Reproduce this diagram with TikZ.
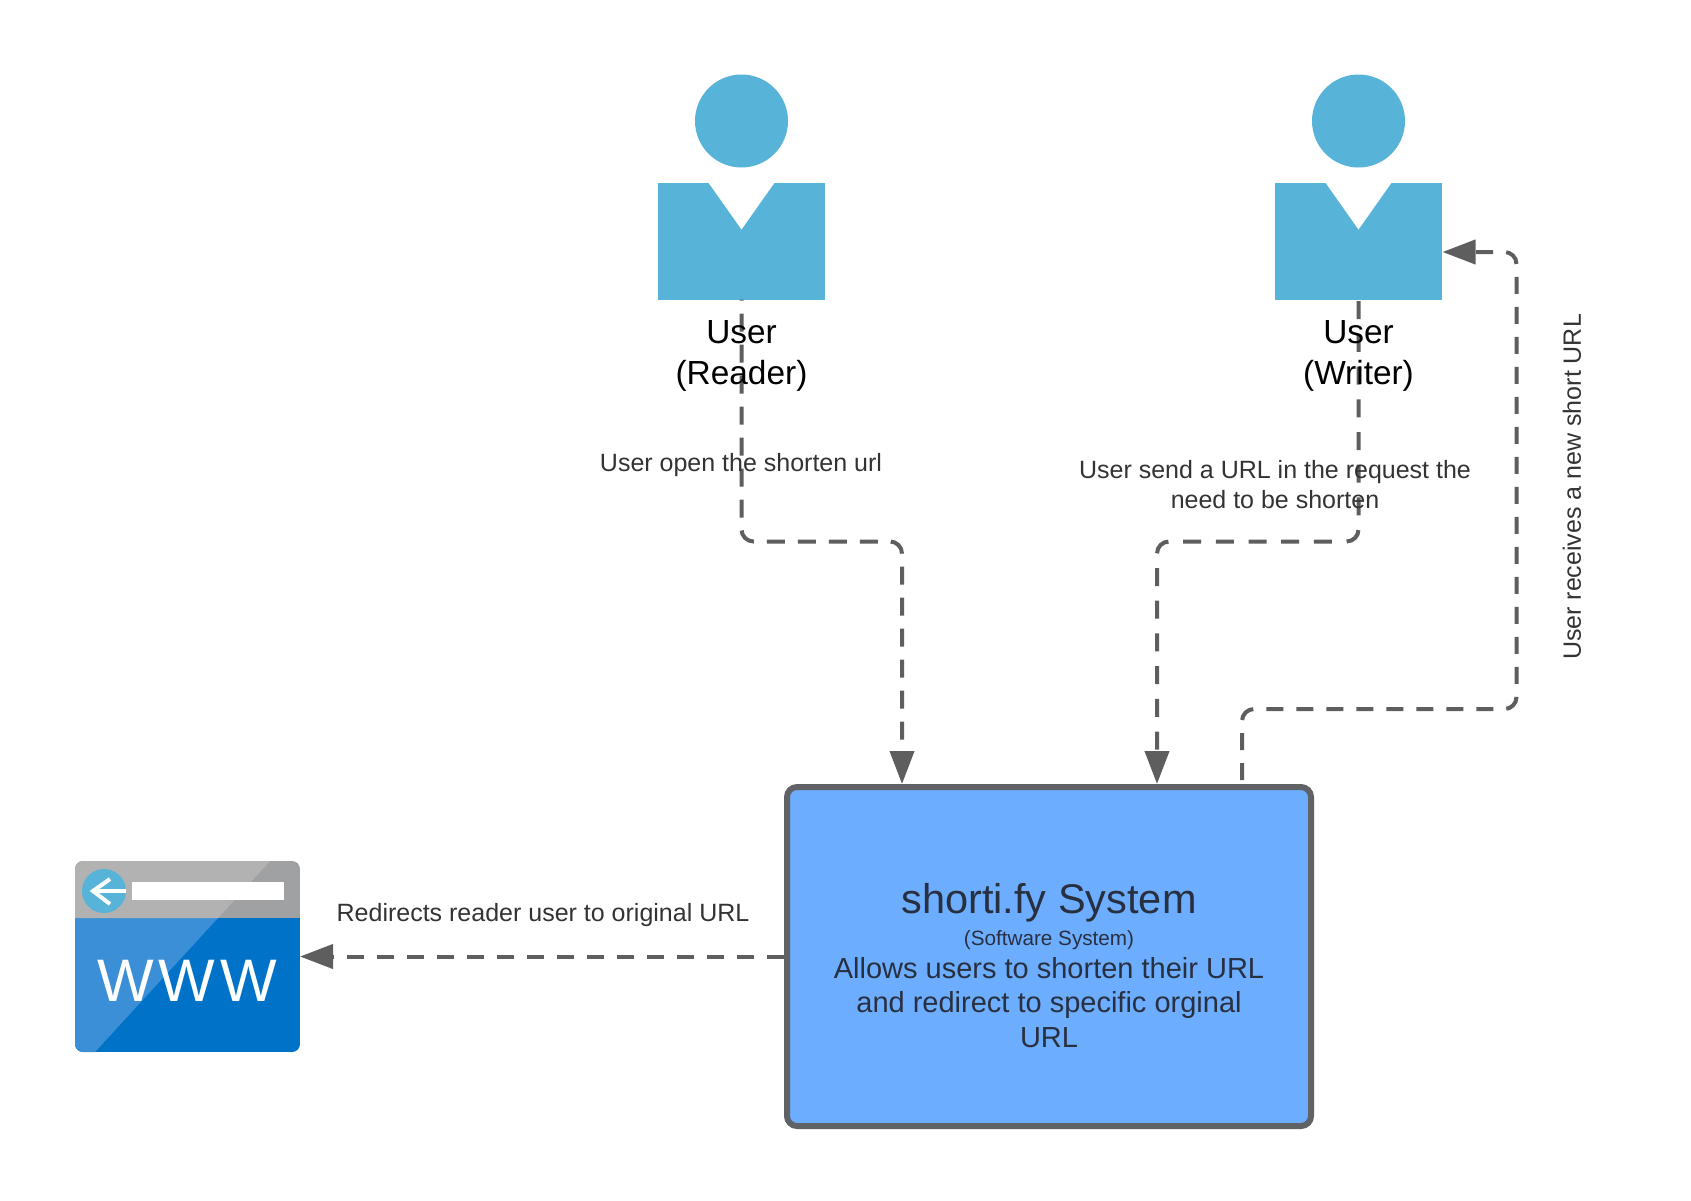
\documentclass[tikz,border=0pt]{standalone}
\usepackage{fontspec}
\setmainfont{Liberation Sans}
\newfontfamily\wwwfont[LetterSpace=8]{Liberation Sans}
\usetikzlibrary{arrows.meta}
\definecolor{personblue}{RGB}{88,179,217}
\definecolor{systemblue}{RGB}{109,173,255}
\definecolor{edgegray}{RGB}{94,94,94}
\definecolor{boxgray}{RGB}{97,98,102}
\definecolor{textdark}{RGB}{40,48,64}
\definecolor{labeldark}{RGB}{51,51,51}
\definecolor{webdark}{RGB}{0,115,200}
\definecolor{weblight}{RGB}{58,143,214}
\definecolor{barlight}{RGB}{178,178,178}
\definecolor{bardark}{RGB}{160,161,163}
\newcommand{\fsize}[2]{\fontsize{#1}{#2}\selectfont}
\tikzset{
    % Person parts
    personhead/.style={circle, fill=personblue, minimum size=93pt, inner sep=0pt, outer sep=0pt},
    personbody/.style={rectangle, fill=personblue, minimum width=167pt, minimum height=117pt, inner sep=0pt, outer sep=0pt},
    personlabel/.style={align=center, text=black, font=\fsize{33.4}{41}},
    % System box
    systembox/.style={
        rectangle, rounded corners=10pt, draw=boxgray, fill=systemblue,
        line width=6pt, minimum width=524pt, minimum height=339pt,
        inner sep=0pt, align=center, text=textdark, font=\fsize{29}{34.7}
    },
    browserbox/.style={rectangle, minimum width=225pt, minimum height=191pt, inner sep=0pt, outer sep=0pt},
    % Connectors
    flowedge/.style={line width=4pt, edgegray, rounded corners=12pt},
    flowtip/.style={-{Triangle[length=33pt,width=24pt]}},
    % Connector labels
    flowlabel/.style={align=center, text=labeldark, font=\fsize{25}{30}}
}
\begin{document}
\begin{tikzpicture}[x=1pt,y=-1pt]
  \useasboundingbox (0,0) rectangle (1691,1200);
  % people
  \node[personhead] (readerhead) at (741.5,121) {};
  \node[personbody] (readerbody) at (741.5,241) {};
  \fill[white] (708,182) -- (775,182) -- (741.5,229.5) -- cycle;
  \node[personhead] (writerhead) at (1358.5,121) {};
  \node[personbody] (writerbody) at (1358.5,241) {};
  \fill[white] (1325,182) -- (1392,182) -- (1358.5,229.5) -- cycle;
  % system
  \node[systembox] (system) at (1049,956.5) {%
    \rule{0pt}{48pt}{\fontsize{41.5}{34.7}\selectfont shorti.fy System}\\[-2pt]
    {\fontsize{20.7}{34.7}\selectfont (Software System)}\\[-2.5pt]
    Allows users to shorten their URL\\
    and redirect to specific orginal\\
    URL};
  % browser
  \node[browserbox] (browser) at (187.5,956.5) {};
  \begin{scope}
    \clip[rounded corners=8pt] (browser.north west) rectangle (browser.south east);
    \fill[webdark] (75,918) rectangle (300,1052);
    \fill[weblight] (75,918) -- (218,918) -- (95,1052) -- (75,1052) -- cycle;
    \fill[bardark] (75,861) rectangle (300,918);
    \fill[barlight] (75,861) -- (270,861) -- (218,918) -- (75,918) -- cycle;
  \end{scope}
  \node[circle, fill=personblue, minimum size=44pt, inner sep=0pt] (backbutton) at (104,891) {};
  \node[rectangle, fill=white, minimum width=152pt, minimum height=18pt, inner sep=0pt] (addressbar) at (208,891) {};
  \draw[white, line width=4pt] (93,891) -- (126,891);
  \draw[white, line width=4pt] (110,879) -- (93,891) -- (110,904);
  \node[text=white, inner sep=0pt, font=\wwwfont\fsize{60}{60}] (wwwtext) at (187,981) {WWW};
  % connectors
  \coordinate (readerbend) at (902,541.5);
  \coordinate (writerbend) at (1157,541.5);
  \coordinate (returnstart) at (1242,784);
  \coordinate (returnbend) at (1516.5,709);
  \coordinate (returnend) at (1442.5,252);
  \draw[flowedge, flowtip, dash pattern=on 18pt off 13pt, dash phase=17pt]
    (readerbody.south) |- (readerbend) -- (readerbend |- system.north);
  \draw[flowedge, flowtip, dash pattern=on 18pt off 14.7pt, dash phase=31pt]
    (writerbody.south) |- (writerbend) -- (writerbend |- system.north);
  \draw[flowedge, flowtip, dash pattern=on 17pt off 13pt, dash phase=26pt]
    (returnstart) |- (returnbend) |- (returnend);
  \draw[flowedge, flowtip, dash pattern=on 17pt off 13pt] (system.west) -- (browser.east);
  % labels
  \node[personlabel] (readerlabel) at (741.5,356) {User\\(Reader)};
  \node[personlabel] (writerlabel) at (1358.5,356) {User\\(Writer)};
  \node[flowlabel] (readerflow) at (741,465.5) {User open the shorten url};
  \node[flowlabel] (writerflow) at (1275,484.5) {User send a URL in the request the\\need to be shorten};
  \node[flowlabel, rotate=90] (returnflow) at (1572,487) {User receives a new short URL};
  \node[flowlabel] (browserflow) at (543,915) {Redirects reader user to original URL};
\end{tikzpicture}
\end{document}
